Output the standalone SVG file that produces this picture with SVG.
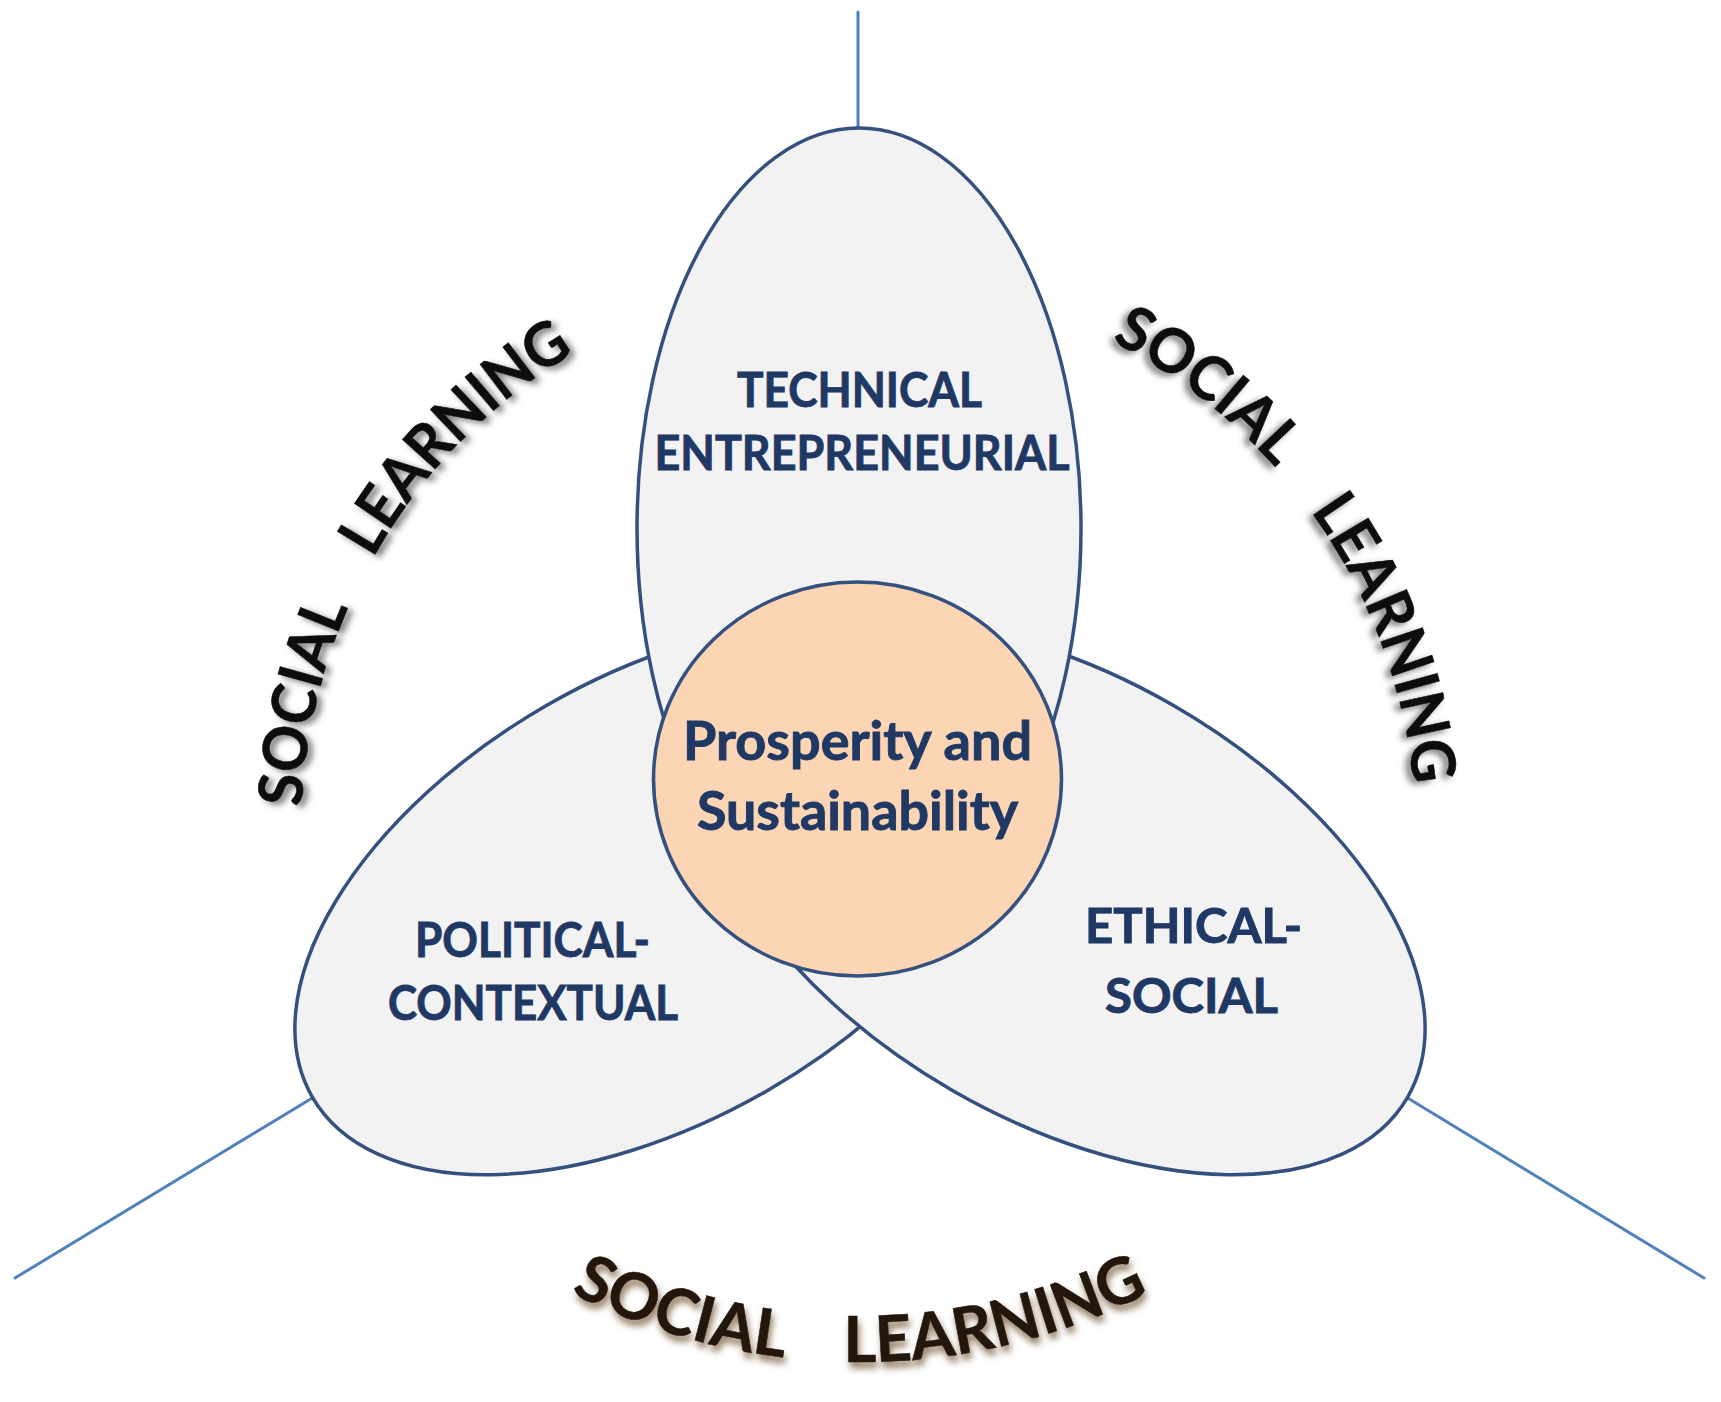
<svg xmlns="http://www.w3.org/2000/svg" width="1721" height="1402" viewBox="0 0 1721 1402">
  <defs>
    <style>
      .petal { fill: #f2f2f2; stroke: #34507f; stroke-width: 3.5; }
      .core { fill: #fcd5b4; stroke: #34507f; stroke-width: 3.5; }
      .conn { stroke: #4f81bd; stroke-width: 3; fill: none; stroke-linecap: round; }
      .lbl { font-family: Lato, "Liberation Sans", sans-serif; font-weight: 700; fill: #1f3864; stroke: #1f3864; stroke-width: 0.9; text-anchor: middle; }
      .sl { font-family: Lato, "Liberation Sans", sans-serif; font-weight: 700; font-size: 61px; fill: #111111; stroke: #111111; stroke-width: 0.6; }
      .slb { font-family: Lato, "Liberation Sans", sans-serif; font-weight: 700; font-size: 64px; fill: #22180e; stroke: #22180e; stroke-width: 0.6; }
    </style>
    <filter id="shLeft" x="-20%" y="-20%" width="140%" height="140%">
      <feGaussianBlur in="SourceAlpha" stdDeviation="3"/>
      <feOffset dx="5" dy="3" result="b"/>
      <feFlood flood-color="#555555" flood-opacity="0.75"/>
      <feComposite in2="b" operator="in"/>
      <feMerge><feMergeNode/><feMergeNode in="SourceGraphic"/></feMerge>
    </filter>
    <filter id="shRight" x="-20%" y="-20%" width="140%" height="140%">
      <feGaussianBlur in="SourceAlpha" stdDeviation="3"/>
      <feOffset dx="-5" dy="3" result="b"/>
      <feFlood flood-color="#555555" flood-opacity="0.75"/>
      <feComposite in2="b" operator="in"/>
      <feMerge><feMergeNode/><feMergeNode in="SourceGraphic"/></feMerge>
    </filter>
    <filter id="shBottom" x="-20%" y="-30%" width="140%" height="160%">
      <feGaussianBlur in="SourceAlpha" stdDeviation="3.5"/>
      <feOffset dx="2" dy="6" result="b"/>
      <feFlood flood-color="#7a5c3c" flood-opacity="0.8"/>
      <feComposite in2="b" operator="in"/>
      <feMerge><feMergeNode/><feMergeNode in="SourceGraphic"/></feMerge>
    </filter>
    <path id="arcLeft" d="M 307.9 919.1 A 557 557 0 0 1 676.6 305.4"/>
    <path id="arcRight" d="M 1003.6 299.6 A 557 557 0 0 1 1412.6 899.9"/>
    <path id="arcBottom" d="M 449.9 1212.7 A 638 638 0 0 0 1270.1 1212.7"/>
  </defs>

  <rect width="1721" height="1402" fill="#ffffff"/>

  <g id="connectors">
    <line class="conn" x1="858" y1="12" x2="858" y2="130"/>
    <line class="conn" x1="314" y1="1097" x2="15" y2="1278"/>
    <line class="conn" x1="1406" y1="1097" x2="1704" y2="1278"/>
  </g>

  <g id="node-political">
    <ellipse class="petal" cx="657" cy="898" rx="398" ry="222" transform="rotate(-30 657 898)"/>
    <text class="lbl" font-size="47" x="532.5" y="957" textLength="235" lengthAdjust="spacingAndGlyphs">POLITICAL-</text>
    <text class="lbl" font-size="47" x="533" y="1020" textLength="290" lengthAdjust="spacingAndGlyphs">CONTEXTUAL</text>
  </g>

  <g id="node-ethical">
    <ellipse class="petal" cx="1063" cy="898" rx="398" ry="222" transform="rotate(30 1063 898)"/>
    <text class="lbl" font-size="47" x="1193.5" y="943" textLength="217" lengthAdjust="spacingAndGlyphs">ETHICAL-</text>
    <text class="lbl" font-size="47" x="1191.5" y="1013" textLength="173" lengthAdjust="spacingAndGlyphs">SOCIAL</text>
  </g>

  <g id="node-technical">
    <ellipse class="petal" cx="859" cy="528" rx="222" ry="400"/>
    <text class="lbl" font-size="47" x="859.5" y="407" textLength="245" lengthAdjust="spacingAndGlyphs">TECHNICAL</text>
    <text class="lbl" font-size="47" x="862" y="470" textLength="415" lengthAdjust="spacingAndGlyphs">ENTREPRENEURIAL</text>
  </g>

  <g id="node-core">
    <ellipse class="core" cx="857.5" cy="779" rx="204" ry="197"/>
    <text class="lbl" font-size="53" x="857.5" y="760" textLength="349" lengthAdjust="spacingAndGlyphs">Prosperity and</text>
    <text class="lbl" font-size="53" x="857.5" y="830" textLength="321" lengthAdjust="spacingAndGlyphs">Sustainability</text>
  </g>

  <g id="social-learning-left" filter="url(#shLeft)">
    <text class="sl"><textPath href="#arcLeft" startOffset="50%" text-anchor="middle" textLength="552" lengthAdjust="spacingAndGlyphs">SOCIAL&#160;&#160;&#160;&#160;LEARNING</textPath></text>
  </g>

  <g id="social-learning-right" filter="url(#shRight)">
    <text class="sl"><textPath href="#arcRight" startOffset="50%" text-anchor="middle" textLength="560" lengthAdjust="spacingAndGlyphs">SOCIAL&#160;&#160;&#160;&#160;LEARNING</textPath></text>
  </g>

  <g id="social-learning-bottom" filter="url(#shBottom)">
    <text class="slb"><textPath href="#arcBottom" startOffset="50%" text-anchor="middle" textLength="600" lengthAdjust="spacingAndGlyphs">SOCIAL&#160;&#160;&#160;&#160;LEARNING</textPath></text>
  </g>
</svg>
